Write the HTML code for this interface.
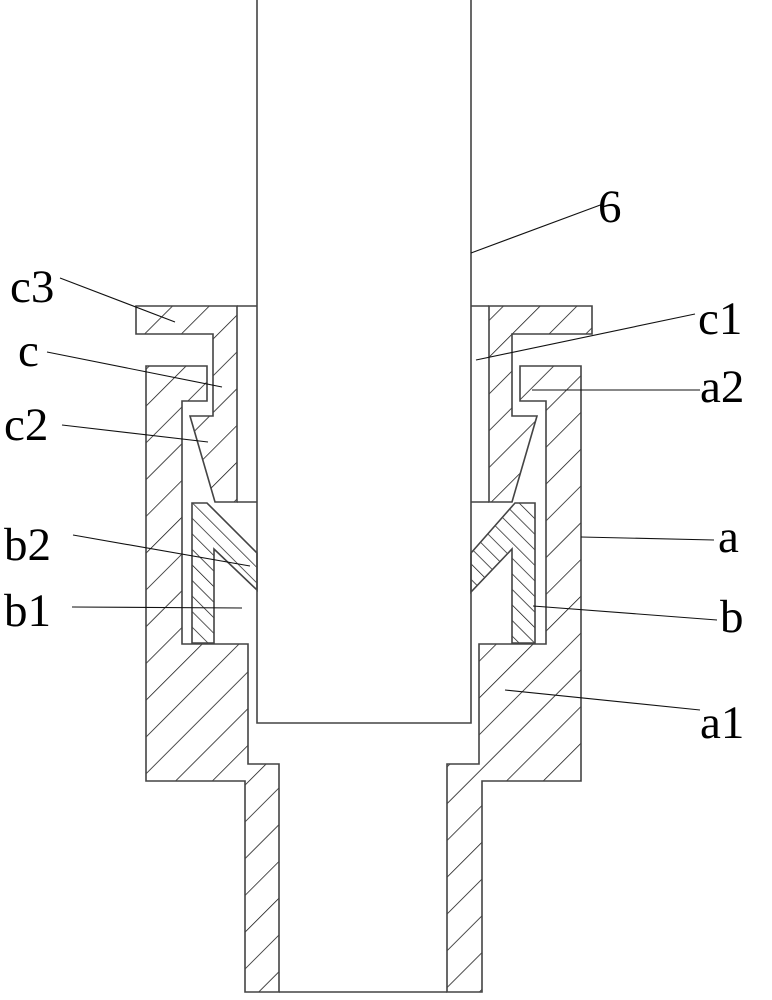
<!DOCTYPE html>
<html><head><meta charset="utf-8"><style>
html,body{margin:0;padding:0;background:#fff;}
svg{display:block;}
text{font-family:"Liberation Serif",serif;font-size:47px;fill:#000;}
</style></head><body>
<svg width="772" height="1000" viewBox="0 0 772 1000" xmlns="http://www.w3.org/2000/svg">
<defs>
<pattern id="h1" patternUnits="userSpaceOnUse" width="26" height="26" patternTransform="rotate(45)">
<line x1="0" y1="0" x2="0" y2="26" stroke="#111" stroke-width="1.5"/></pattern>
<pattern id="h2" patternUnits="userSpaceOnUse" width="11" height="11" patternTransform="rotate(-45)">
<line x1="0" y1="0" x2="0" y2="11" stroke="#111" stroke-width="1.4"/></pattern>
</defs>
<g stroke="#444" stroke-width="1.6" fill="url(#h1)">
<polygon points="146,366 207,366 207,401 182,401 182,644 248,644 248,764 279,764 279,992 245,992 245,781 146,781"/>
<polygon points="520,366 581,366 581,781 482,781 482,992 447,992 447,764 479,764 479,644 546,644 546,401 520,401"/>
<polygon points="136,306 237,306 237,502 215,502 190,416 213,416 213,334 136,334"/>
<polygon points="489,306 592,306 592,334 512,334 512,416 537,416 512,502 489,502"/>
</g>
<g stroke="#444" stroke-width="1.6" fill="url(#h2)">
<polygon points="192,503 207,503 257,553 257,590 214,549 214,643 192,643"/>
<polygon points="515,503 535,503 535,643 512,643 512,549 471,592 471,553"/>
</g>
<g stroke="#444" stroke-width="1.6" fill="none">
<polyline points="257,0 257,723 471,723 471,0"/>
<line x1="237" y1="306" x2="257" y2="306"/>
<line x1="471" y1="306" x2="489" y2="306"/>
<line x1="237" y1="502" x2="257" y2="502"/>
<line x1="471" y1="502" x2="489" y2="502"/>
<line x1="279" y1="992" x2="447" y2="992"/>
</g>
<g stroke="#111" stroke-width="1.1">
<line x1="471" y1="253" x2="603" y2="204"/>
<line x1="60" y1="278" x2="175" y2="322"/>
<line x1="47" y1="352" x2="222" y2="387"/>
<line x1="62" y1="425" x2="208" y2="442"/>
<line x1="73" y1="535" x2="250" y2="566"/>
<line x1="72" y1="607" x2="242" y2="608"/>
<line x1="695" y1="314" x2="476" y2="360"/>
<line x1="700" y1="390" x2="532" y2="390"/>
<line x1="714" y1="540" x2="581" y2="537"/>
<line x1="717" y1="620" x2="533" y2="606"/>
<line x1="700" y1="710" x2="505" y2="690"/>
</g>
<text x="598" y="222">6</text>
<text x="10" y="302">c3</text>
<text x="18" y="366">c</text>
<text x="4" y="440">c2</text>
<text x="4" y="560">b2</text>
<text x="4" y="626">b1</text>
<text x="698" y="334">c1</text>
<text x="700" y="402">a2</text>
<text x="718" y="552">a</text>
<text x="720" y="632">b</text>
<text x="700" y="738">a1</text>
</svg>
</body></html>
